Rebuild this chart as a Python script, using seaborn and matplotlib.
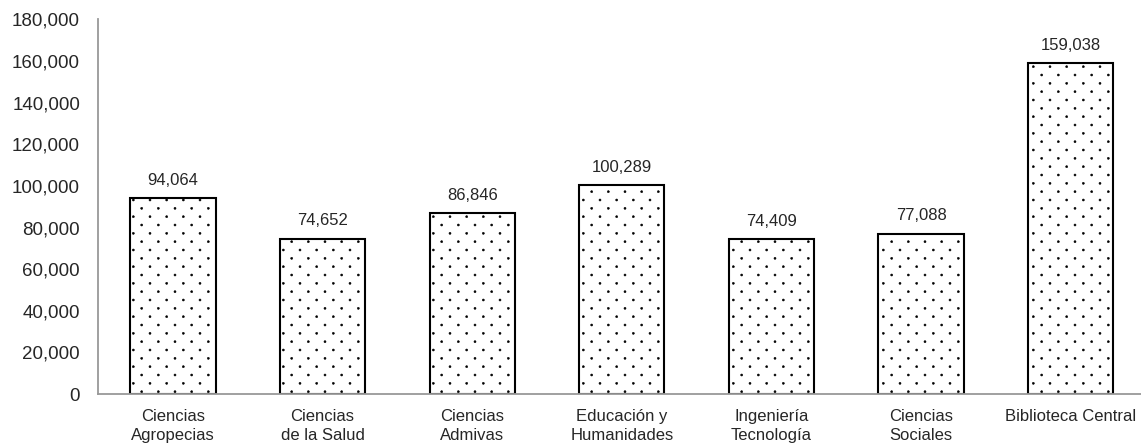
import numpy as np
import pandas as pd
import seaborn as sns
import matplotlib.pyplot as plt
import matplotlib.hatch as mhatch
from matplotlib.path import Path
from matplotlib.ticker import FuncFormatter

# data
categories = ["Ciencias\nAgropecias", "Ciencias\nde la Salud", "Ciencias\nAdmivas",
              "Educación y\nHumanidades", "Ingeniería\nTecnología", "Ciencias\nSociales",
              "Biblioteca Central"]
values = [94064, 74652, 86846, 100289, 74409, 77088, 159038]


# sparse diagonal dot texture, like the office-style "5%" pattern fill
class DiagonalDots(mhatch.Circles):
    size = 0.12
    filled = True

    def __init__(self, hatch, density):
        self.num_rows = hatch.count('.') * density * 2
        circle = Path.unit_circle()
        self.shape_vertices = circle.vertices
        self.shape_codes = circle.codes
        n = self.num_rows
        self.cells = [(c, r) for r in range(n + 1) for c in range(n + 1) if (r + c) % 2 == 0]
        self.num_vertices = len(self.cells) * len(self.shape_vertices) if n else 0

    def set_vertices_and_codes(self, vertices, codes):
        off = 1.0 / self.num_rows
        sv = self.shape_vertices * off * self.size
        vertices[:] = np.concatenate([sv + [c * off, r * off] for c, r in self.cells])
        codes[:] = np.tile(self.shape_codes, len(self.cells))


mhatch._hatch_types = [DiagonalDots if t is mhatch.SmallFilledCircles else t
                       for t in mhatch._hatch_types]

sns.set_style("white")
plt.rcParams['font.family'] = ['Liberation Sans', 'DejaVu Sans']
plt.rcParams['hatch.linewidth'] = 0.4

df = pd.DataFrame({"cat": categories, "val": values})

fig = plt.figure(figsize=(11.41, 4.44), dpi=100)
ax = fig.add_axes([0.086, 0.1126, 0.918, 0.8435])

sns.barplot(data=df, x="cat", y="val", color="white", edgecolor="black",
            linewidth=1.5, width=0.57, saturation=1, ax=ax)
for p in ax.patches:
    p.set_hatch(".")

# value labels above the bars
for i, v in enumerate(values):
    ax.text(i, v + 5000, f"{v:,}", ha="center", va="bottom", fontsize=12)

ax.set_ylim(0, 180000)
ax.set_yticks(range(0, 180001, 20000))
ax.yaxis.set_major_formatter(FuncFormatter(lambda x, _: f"{int(x):,}"))
ax.set_xlim(-0.5, 6.5)
ax.set_xlabel("")
ax.set_ylabel("")
ax.tick_params(axis="both", length=0)
ax.tick_params(axis="x", pad=11, labelsize=12)
ax.tick_params(axis="y", pad=13, labelsize=13.5)
for lbl in ax.get_xticklabels():
    lbl.set_linespacing(1.3)

sns.despine(ax=ax)
for s in ("left", "bottom"):
    ax.spines[s].set_color("#999999")
    ax.spines[s].set_linewidth(1.3)

fig.savefig("out.png", dpi=100)
